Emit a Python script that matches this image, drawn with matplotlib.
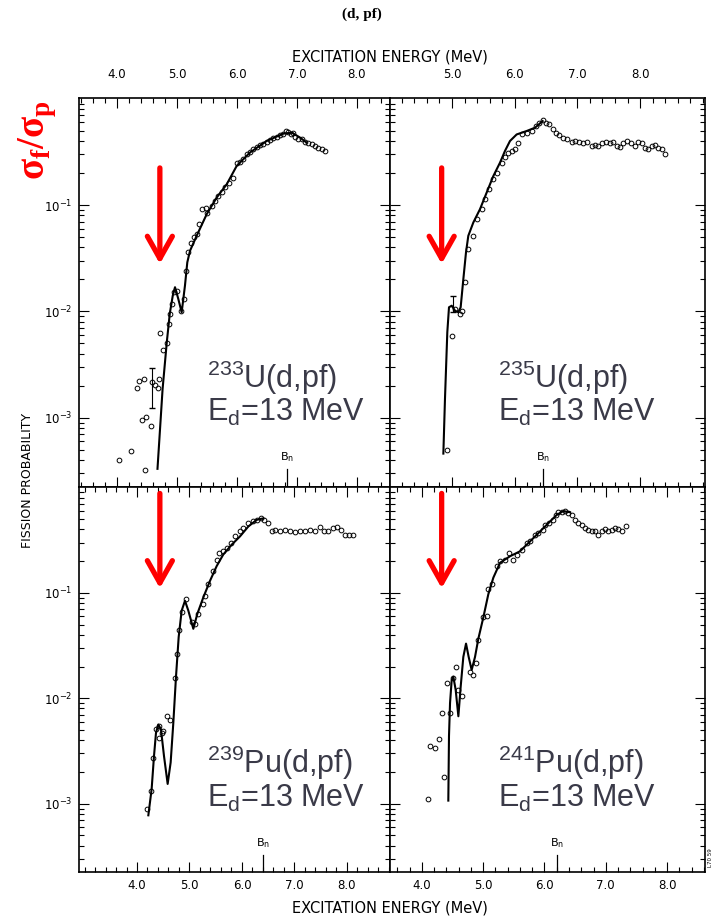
import numpy as np
import matplotlib.pyplot as plt
from matplotlib.ticker import MultipleLocator, LogLocator, NullFormatter

# (energy MeV, fission probability)
u233_curve = [(4.675, 3.3e-4), (4.760, 1.86e-3), (4.830, 5.13e-3), (4.880, 9.55e-3), (4.930, 0.0141),
              (4.967, 0.0169), (5.022, 0.0131), (5.078, 0.0098), (5.133, 0.0175), (5.172, 0.029),
              (5.217, 0.0372), (5.328, 0.0515), (5.495, 0.0822), (5.662, 0.118), (5.828, 0.157),
              (5.995, 0.234), (6.217, 0.313), (6.495, 0.402), (6.772, 0.471), (6.912, 0.482),
              (7.050, 0.433), (7.160, 0.388)]
u233_points = [(4.039, 3.97e-4), (4.228, 4.86e-4), (4.472, 3.22e-4), (4.417, 9.44e-4), (4.484, 1.01e-3),
               (4.561, 8.41e-4), (4.339, 1.91e-3), (4.372, 2.21e-3), (4.450, 2.32e-3), (4.583, 2.15e-3),
               (4.639, 2.01e-3), (4.689, 1.91e-3), (4.700, 2.29e-3), (4.717, 6.28e-3), (4.772, 4.29e-3),
               (4.839, 5.06e-3), (4.861, 7.62e-3), (4.884, 9.46e-3), (4.911, 0.01175), (4.950, 0.01514),
               (5.006, 0.01567), (5.067, 0.01016), (5.117, 0.01309), (5.150, 0.02415), (5.189, 0.0359),
               (5.228, 0.0440), (5.284, 0.0497), (5.339, 0.0533), (5.367, 0.0662), (5.411, 0.0916),
               (5.484, 0.0950), (5.506, 0.0853), (5.578, 0.0984), (5.634, 0.1097), (5.689, 0.1222),
               (5.745, 0.1333), (5.800, 0.1496), (5.873, 0.163), (5.928, 0.1817), (5.995, 0.248),
               (6.050, 0.255), (6.106, 0.270), (6.161, 0.301), (6.217, 0.317), (6.273, 0.341),
               (6.328, 0.356), (6.384, 0.366), (6.439, 0.379), (6.495, 0.393), (6.550, 0.410),
               (6.606, 0.432), (6.661, 0.441), (6.717, 0.454), (6.773, 0.467), (6.817, 0.495),
               (6.856, 0.488), (6.895, 0.467), (6.928, 0.480), (6.967, 0.441), (7.023, 0.422),
               (7.078, 0.416), (7.134, 0.393), (7.189, 0.387), (7.245, 0.373), (7.300, 0.360),
               (7.356, 0.348), (7.411, 0.340), (7.467, 0.323)]
u233_err = (4.583, 2.15e-3, 1.23e-3, 2.92e-3)

u235_curve = [(4.862, 4.59e-4), (4.888, 1.51e-3), (4.925, 6.37e-3), (4.952, 0.01094), (4.995, 0.01132),
              (5.048, 0.01016), (5.101, 0.00982), (5.138, 0.01094), (5.181, 0.0202), (5.223, 0.0359),
              (5.260, 0.0515), (5.340, 0.0687), (5.446, 0.0916), (5.553, 0.1315), (5.659, 0.188),
              (5.765, 0.251), (5.845, 0.324), (5.925, 0.402), (6.031, 0.463), (6.191, 0.499),
              (6.324, 0.536), (6.446, 0.619)]
u235_points = [(4.915, 4.93e-4), (4.995, 5.93e-3), (5.048, 0.01054), (5.127, 0.00946), (5.154, 0.01016),
               (5.207, 0.01875), (5.260, 0.0386), (5.340, 0.0515), (5.404, 0.0738), (5.473, 0.0916),
               (5.526, 0.1137), (5.595, 0.1413), (5.659, 0.1754), (5.723, 0.2025), (5.792, 0.2512),
               (5.845, 0.2862), (5.898, 0.3118), (5.951, 0.3236), (6.005, 0.3351), (6.058, 0.3873),
               (6.111, 0.4634), (6.191, 0.4806), (6.270, 0.4988), (6.340, 0.5563), (6.393, 0.5888),
               (6.446, 0.6324), (6.499, 0.5970), (6.552, 0.5754), (6.605, 0.5164), (6.659, 0.4806),
               (6.712, 0.4602), (6.775, 0.4315), (6.839, 0.4223), (6.908, 0.3925), (6.962, 0.4018),
               (7.031, 0.3925), (7.095, 0.3873), (7.158, 0.3956), (7.227, 0.3605), (7.281, 0.3656),
               (7.334, 0.3605), (7.387, 0.3873), (7.456, 0.3925), (7.520, 0.3873), (7.573, 0.3925),
               (7.626, 0.3605), (7.679, 0.3524), (7.733, 0.3873), (7.796, 0.4018), (7.849, 0.3819),
               (7.918, 0.3605), (7.972, 0.3925), (8.025, 0.3873), (8.078, 0.3475), (8.131, 0.3404),
               (8.184, 0.3605), (8.238, 0.3656), (8.291, 0.3475), (8.344, 0.3351), (8.397, 0.3013)]
u235_err = (5.021, 0.0117, 0.00982, 0.01406)

pu239_curve = [(4.216, 7.76e-4), (4.279, 1.38e-3), (4.324, 2.84e-3), (4.362, 4.71e-3), (4.406, 5.64e-3),
               (4.457, 5.06e-3), (4.514, 2.84e-3), (4.584, 1.54e-3), (4.641, 2.46e-3), (4.692, 5.85e-3),
               (4.743, 0.01603), (4.794, 0.0381), (4.851, 0.0678), (4.914, 0.0841), (4.978, 0.0678),
               (5.073, 0.0456), (5.149, 0.0631), (5.263, 0.0904), (5.390, 0.1297), (5.517, 0.179),
               (5.644, 0.231), (5.803, 0.286), (5.962, 0.343), (6.121, 0.426), (6.279, 0.492),
               (6.406, 0.509)]
pu239_points = [(4.197, 8.97e-4), (4.260, 1.31e-3), (4.311, 2.74e-3), (4.362, 5.06e-3), (4.425, 5.43e-3),
                (4.470, 4.71e-3), (4.501, 4.88e-3), (4.425, 4.23e-3), (4.565, 6.75e-3), (4.628, 6.28e-3),
                (4.724, 0.01545), (4.768, 0.02655), (4.806, 0.0440), (4.851, 0.0653), (4.933, 0.0871),
                (5.041, 0.0526), (5.105, 0.0508), (5.168, 0.0631), (5.251, 0.0784), (5.295, 0.0937),
                (5.359, 0.1205), (5.454, 0.1610), (5.530, 0.2070), (5.568, 0.2393), (5.644, 0.2477),
                (5.708, 0.2664), (5.784, 0.2972), (5.867, 0.3428), (5.962, 0.3819), (6.025, 0.4102),
                (6.121, 0.4571), (6.203, 0.4806), (6.279, 0.4920), (6.355, 0.5093), (6.419, 0.4920),
                (6.501, 0.4571), (6.565, 0.3819), (6.628, 0.3963), (6.724, 0.3873), (6.819, 0.3963),
                (6.914, 0.3873), (7.009, 0.3767), (7.105, 0.3819), (7.200, 0.3873), (7.295, 0.3963),
                (7.390, 0.3819), (7.486, 0.4256), (7.562, 0.3873), (7.644, 0.3819), (7.740, 0.4102),
                (7.816, 0.4256), (7.879, 0.3963), (7.962, 0.3556), (8.044, 0.3556), (8.108, 0.3556)]

pu241_curve = [(4.430, 1.07e-3), (4.441, 4.39e-3), (4.458, 9.02e-3), (4.485, 0.01493), (4.512, 0.01603),
               (4.550, 0.01202), (4.594, 6.75e-3), (4.632, 0.01291), (4.675, 0.0247), (4.719, 0.0330),
               (4.762, 0.0247), (4.811, 0.01854), (4.866, 0.0247), (4.920, 0.0367), (5.002, 0.0586),
               (5.083, 0.0970), (5.165, 0.1393), (5.274, 0.1928), (5.437, 0.2223), (5.600, 0.2477),
               (5.764, 0.3076), (5.927, 0.3819), (6.090, 0.4742), (6.199, 0.5483), (6.308, 0.5970),
               (6.417, 0.5808)]
pu241_points = [(4.104, 1.11e-3), (4.131, 3.53e-3), (4.213, 3.40e-3), (4.283, 4.07e-3), (4.322, 7.26e-3),
                (4.360, 1.78e-3), (4.458, 7.26e-3), (4.414, 0.01387), (4.512, 0.01545), (4.556, 0.01991),
                (4.594, 0.01202), (4.648, 0.01040), (4.784, 0.01786), (4.839, 0.01663), (4.882, 0.02173),
                (4.920, 0.0354), (5.002, 0.0586), (5.056, 0.0608), (5.083, 0.1084), (5.138, 0.1205),
                (5.220, 0.1795), (5.274, 0.2000), (5.356, 0.2070), (5.426, 0.2393), (5.492, 0.2070),
                (5.546, 0.2307), (5.628, 0.2570), (5.709, 0.2972), (5.764, 0.3126), (5.845, 0.3556),
                (5.900, 0.3681), (5.971, 0.3963), (6.009, 0.4420), (6.079, 0.4571), (6.134, 0.4920),
                (6.188, 0.5483), (6.226, 0.5808), (6.281, 0.5888), (6.335, 0.5970), (6.390, 0.5675),
                (6.444, 0.5483), (6.498, 0.4920), (6.553, 0.4571), (6.607, 0.4420), (6.662, 0.4102),
                (6.716, 0.3963), (6.771, 0.3873), (6.825, 0.3819), (6.879, 0.3556), (6.934, 0.3819),
                (6.988, 0.4046), (7.043, 0.3819), (7.097, 0.3963), (7.152, 0.4102), (7.206, 0.4046),
                (7.260, 0.3819), (7.331, 0.4345)]

targets = ["233", "235", "239", "241"]
elements = ["U", "U", "Pu", "Pu"]
neutron_binding = [6.828, 6.446, 6.406, 6.199]
x_limits = [(3.367, 8.55), (4.011, 9.035), (2.895, 8.82), (3.478, 8.62)]
x_ticks = [[4, 5, 6, 7, 8], [5, 6, 7, 8], [4, 5, 6, 7, 8], [4, 5, 6, 7, 8]]
y_limits = (2.25e-4, 1.02)

W, H = 717, 918
fig = plt.figure(figsize=(W / 100, H / 100), dpi=100)

xl, xm, xr = 79 / W, 390 / W, 705 / W
yb, ym, yt = 1 - 872 / H, 1 - 486.5 / H, 1 - 98 / H
rects = [[xl, ym, xm - xl, yt - ym], [xm, ym, xr - xm, yt - ym],
         [xl, yb, xm - xl, ym - yb], [xm, yb, xr - xm, ym - yb]]

curves = [u233_curve, u235_curve, pu239_curve, pu241_curve]
points = [u233_points, u235_points, pu239_points, pu241_points]
errs = [u233_err, u235_err, None, None]

label_color = "#3a3a48"

for i in range(4):
    ax = fig.add_axes(rects[i])
    top_row = i < 2
    left_col = i % 2 == 0

    ce, cp = zip(*curves[i])
    ax.plot(ce, cp, color="black", lw=1.5)
    pe, pp = zip(*points[i])
    ax.plot(pe, pp, "o", mfc="none", mec="black", ms=3.4, mew=0.7)
    if errs[i] is not None:
        e, p, lo, hi = errs[i]
        ax.errorbar([e], [p], yerr=[[p - lo], [hi - p]], fmt="none", ecolor="black",
                    elinewidth=0.8, capsize=2)

    ax.set_yscale("log")
    ax.set_xlim(*x_limits[i])
    ax.set_ylim(*y_limits)

    ax.set_xticks(x_ticks[i], labels=["%.1f" % t for t in x_ticks[i]])
    ax.xaxis.set_minor_locator(MultipleLocator(0.2))
    ax.set_yticks([1e-3, 1e-2, 1e-1], labels=[r"$10^{-3}$", r"$10^{-2}$", r"$10^{-1}$"])
    ax.yaxis.set_minor_locator(LogLocator(subs=np.arange(2, 10)))
    ax.yaxis.set_minor_formatter(NullFormatter())

    ax.tick_params(which="both", direction="in", top=True, bottom=True, left=True, right=True,
                   labeltop=top_row, labelbottom=not top_row, labelleft=left_col, labelright=False,
                   labelsize=8.5, width=0.8)
    ax.tick_params(which="major", length=7)
    ax.tick_params(which="minor", length=3.5)
    ax.tick_params(axis="x", which="major", pad=12 if top_row else 5)
    ax.tick_params(axis="y", which="major", pad=5)
    for s in ax.spines.values():
        s.set_linewidth(1.2)

    # neutron binding energy marker
    ax.axvline(neutron_binding[i], ymin=0, ymax=0.045, color="black", lw=0.9)
    ax.text(neutron_binding[i], 0.058, r"B$_\mathregular{n}$", transform=ax.get_xaxis_transform(),
            ha="center", va="bottom", fontsize=8)

    # red arrows
    ax_x = 0.26 if left_col else 0.164
    y0, y1 = (0.82, 0.573) if top_row else (0.982, 0.736)
    ax.annotate("", xy=(ax_x, y1), xytext=(ax_x, y0), xycoords="axes fraction",
                arrowprops=dict(arrowstyle="->,head_length=1.6,head_width=0.9", color="red",
                                lw=3.8, shrinkA=0, shrinkB=0))

    tx = 0.41 if left_col else 0.343
    l1, l2 = (0.28, 0.19) if top_row else (0.282, 0.192)
    ax.text(tx, l1, r"$\mathregular{^{%s}}$%s(d,pf)" % (targets[i], elements[i]),
            transform=ax.transAxes, fontsize=22, family="Liberation Sans", color=label_color,
            va="center", ha="left")
    ax.text(tx, l2, r"E$_\mathregular{d}$=13 MeV", transform=ax.transAxes, fontsize=22,
            family="Liberation Sans", color=label_color, va="center", ha="left")

fig.text(0.505, 1 - 14 / H, "(d, pf)", ha="center", va="center", fontsize=11,
         family="Liberation Serif", weight="bold")
fig.text(xm, 1 - 57 / H, "EXCITATION ENERGY (MeV)", ha="center", va="center", fontsize=10.5)
fig.text(xm, 1 - 908 / H, "EXCITATION ENERGY (MeV)", ha="center", va="center", fontsize=10.5)
fig.text(28 / W, 1 - 480 / H, "FISSION PROBABILITY", rotation=90, ha="center", va="center",
         fontsize=9)
fig.text(37 / W, 1 - 140 / H, r"σ$_\mathregular{f}$/σ$_\mathregular{p}$", rotation=90,
         ha="center", va="center", fontsize=28, color="red", family="Liberation Serif",
         weight="bold")
fig.text(711 / W, 1 - 858 / H, "L70 59", rotation=90, ha="center", va="center", fontsize=4)

fig.savefig("out.png", dpi=100)
